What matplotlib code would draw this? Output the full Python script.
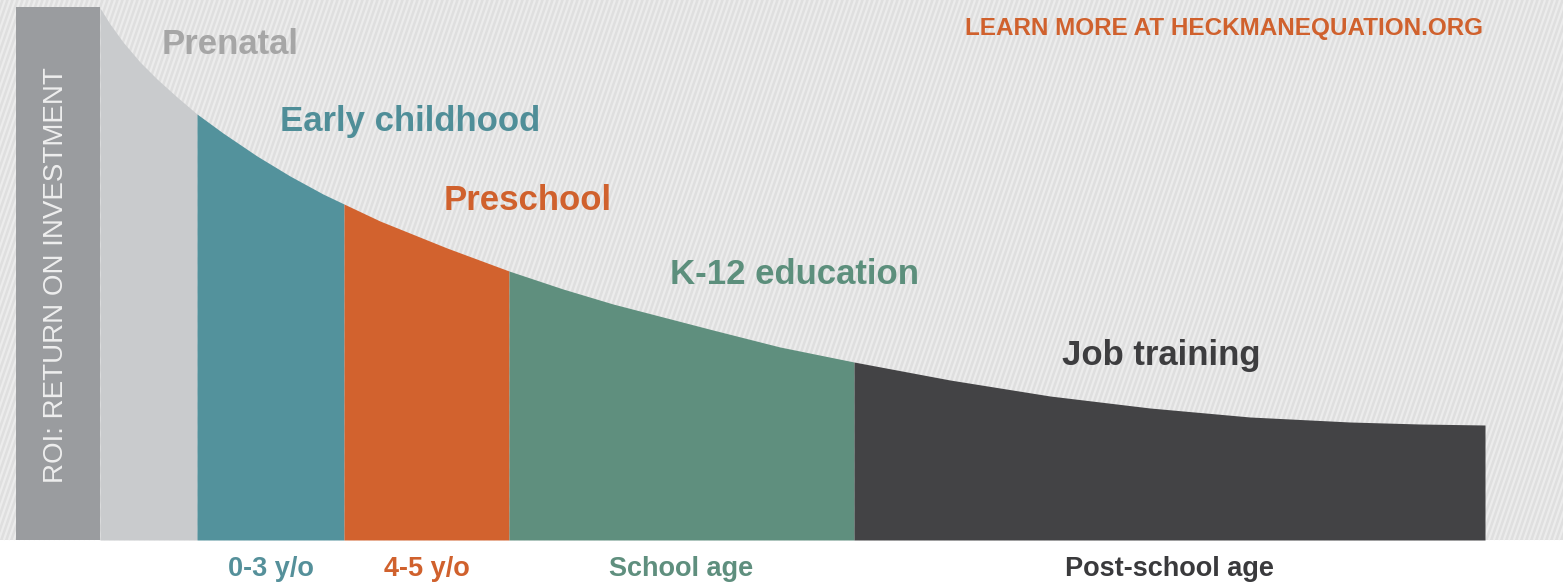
import matplotlib.pyplot as plt
import numpy as np
from matplotlib.collections import LineCollection
from matplotlib.patches import Rectangle

# curve: horizontal position and ROI height above the baseline
curve_x = [100, 110, 123, 140, 157, 177, 197, 223, 257, 290, 323, 344,
           380, 447, 509, 563, 613, 713, 780, 854,
           950, 1050, 1150, 1250, 1350, 1420, 1485]
curve_roi = [532, 516, 498, 478, 461, 443, 426, 407, 384, 364, 346, 336,
             319, 292, 269, 251, 236, 210, 193, 178,
             160, 144, 132, 123, 118, 116, 115]

# stage boundaries along the age axis
stage_edges = [100, 197, 344, 509, 854, 1485]
stage_names = ["Prenatal", "Early childhood", "Preschool", "K-12 education", "Job training"]
stage_colors = ["#c9cbcd", "#53929c", "#d2622e", "#5f8f7e", "#434345"]
stage_text_colors = ["#a6a6a6", "#4f8e98", "#d0612d", "#5c8f7c", "#3d3d3f"]
stage_label_pos = [(162, 495), (280, 418), (444, 340), (670, 265), (1062, 185)]

age_labels = ["0-3 y/o", "4-5 y/o", "School age", "Post-school age"]
age_colors = ["#55909a", "#d0612d", "#5f8f7e", "#3a3a3c"]

W, H, BASE = 1563, 586, 540

fig = plt.figure(figsize=(W / 100, H / 100), dpi=100)
ax = fig.add_axes([0, 0, 1, 1])
ax.set_xlim(0, W)
ax.set_ylim(BASE - H, BASE)
ax.axis('off')

# striped light gray backdrop
bg = Rectangle((0, 0), W, BASE, facecolor="#dfdfdf", edgecolor="none", zorder=0)
ax.add_patch(bg)
slope = 2.9
offsets = np.arange(-BASE / slope - 10, W + 10, 5.0)
segs = [[(x0, 0), (x0 + BASE / slope, BASE)] for x0 in offsets]
stripes = LineCollection(segs, colors="#ececec", linewidths=1.6, zorder=1)
stripes.set_clip_path(bg)
ax.add_collection(stripes)

# ROI axis bar
ax.add_patch(Rectangle((16, 0), 84, 533, facecolor="#9a9c9f", edgecolor="none", zorder=2))
ax.text(56, 265, "ROI: RETURN ON INVESTMENT", rotation=90, ha="center", va="center",
        color="#eeeeee", fontsize=20, family="Liberation Sans", zorder=5)

cx = np.array(curve_x)
cy = np.array(curve_roi)
for i in range(len(stage_names)):
    a, b = stage_edges[i], stage_edges[i + 1]
    m = (cx >= a) & (cx <= b)
    ax.fill_between(cx[m], 0, cy[m], color=stage_colors[i], linewidth=0, zorder=3)
    tx, ty = stage_label_pos[i]
    ax.text(tx, ty, stage_names[i], ha="left", va="center", color=stage_text_colors[i],
            fontsize=25, fontweight="bold", family="Liberation Sans", zorder=5)

for i, lab in enumerate(age_labels):
    a, b = stage_edges[i + 1], stage_edges[i + 2]
    ax.text((a + b) / 2, BASE - 569, lab, ha="center", va="center", color=age_colors[i],
            fontsize=19.5, fontweight="bold", family="Liberation Sans", zorder=5)

ax.text(1483, BASE - 28, "LEARN MORE AT HECKMANEQUATION.ORG", ha="right", va="center",
        color="#d0612d", fontsize=17.5, fontweight="bold", family="Liberation Sans", zorder=5)

fig.savefig("out.png", dpi=100)
